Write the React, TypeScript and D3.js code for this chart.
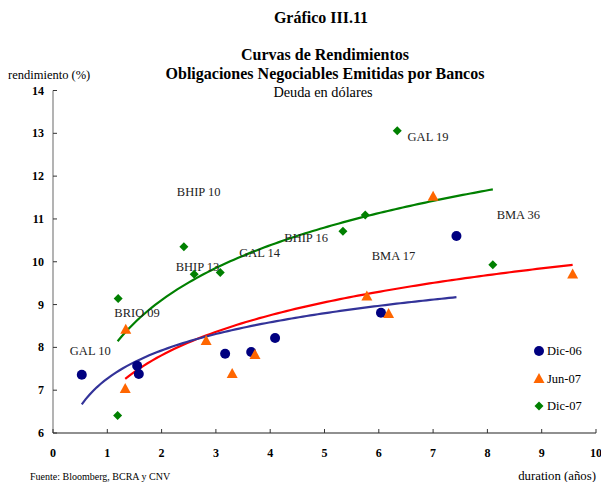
import React from "react";
import * as d3 from "d3";

const yTicks = [6, 7, 8, 9, 10, 11, 12, 13, 14];
const xTicks = [0, 1, 2, 3, 4, 5, 6, 7, 8, 9, 10];

const dic06X = [0.53, 1.55, 1.58, 3.17, 3.65, 4.09, 6.04, 7.43];
const dic06Y = [7.36, 7.57, 7.38, 7.85, 7.89, 8.22, 8.81, 10.6];

const jun07X = [1.33, 1.34, 2.82, 3.3, 3.72, 5.78, 6.18, 7.0, 9.57];
const jun07Y = [7.03, 8.41, 8.15, 7.38, 7.82, 9.19, 8.78, 11.52, 9.7];

const dic07X = [1.2, 1.19, 2.41, 2.6, 3.08, 5.34, 5.75, 6.34, 8.1];
const dic07Y = [9.14, 6.41, 10.35, 9.71, 9.75, 10.71, 11.09, 13.06, 9.93];

const bondNames = ["GAL 10", "BRIO 09", "BHIP 10", "BHIP 13", "GAL 14", "BHIP 16", "GAL 19", "BMA 17", "BMA 36"];
const bondX = [0.31, 1.13, 2.28, 2.26, 3.43, 4.26, 6.53, 5.87, 8.17];
const bondY = [7.83, 8.7, 11.53, 9.78, 10.11, 10.46, 12.83, 10.05, 10.99];

const legendNames = ["Dic-06", "Jun-07", "Dic-07"];

const W = 601, H = 482;
const x = d3.scaleLinear().domain([0, 10]).range([53, 596]);
const y = d3.scaleLinear().domain([6, 14]).range([433, 90.5]);

function logFit(xs: number[], ys: number[]) {
  const lx = xs.map(Math.log);
  const mx = d3.mean(lx) as number;
  const my = d3.mean(ys) as number;
  let sxy = 0, sxx = 0;
  lx.forEach((v, i) => { sxy += (v - mx) * (ys[i] - my); sxx += (v - mx) * (v - mx); });
  const b = sxy / sxx;
  const a = my - b * mx;
  const lo = d3.min(xs) as number, hi = d3.max(xs) as number;
  const pts: [number, number][] = d3.range(0, 101).map((k) => {
    const t = lo + ((hi - lo) * k) / 100;
    return [t, a + b * Math.log(t)];
  });
  return d3.line<[number, number]>().x((d) => x(d[0])).y((d) => y(d[1]))(pts) as string;
}

const serif = "'Liberation Serif', 'Times New Roman', serif";

const Circle = ({ cx, cy }: { cx: number; cy: number }) => (
  <circle cx={cx} cy={cy} r={5} fill="#000080" />
);
const Tri = ({ cx, cy }: { cx: number; cy: number }) => (
  <path d={`M${cx},${cy - 6}L${cx + 5.5},${cy + 4}L${cx - 5.5},${cy + 4}Z`} fill="#FF6600" />
);
const Diamond = ({ cx, cy }: { cx: number; cy: number }) => (
  <path d={`M${cx},${cy - 4.5}L${cx + 4.5},${cy}L${cx},${cy + 4.5}L${cx - 4.5},${cy}Z`} fill="#008000" />
);

export default function App() {
  return (
    <svg width={W} height={H} style={{ position: "absolute", left: 0, top: 0, background: "#fff" }} fontFamily={serif}>
      <rect width={W} height={H} fill="#fff" />
      <text x={321} y={23} textAnchor="middle" fontWeight="bold" fontSize={16}>Gráfico III.11</text>
      <text x={325} y={60} textAnchor="middle" fontWeight="bold" fontSize={16}>Curvas de Rendimientos</text>
      <text x={325} y={79} textAnchor="middle" fontWeight="bold" fontSize={16}>Obligaciones Negociables Emitidas por Bancos</text>
      <text x={323} y={97} textAnchor="middle" fontSize={14.3}>Deuda en dólares</text>
      <text x={8} y={79} fontSize={12.5}>rendimiento (%)</text>

      {/* axes */}
      <line x1={x(0)} x2={x(0)} y1={y(14)} y2={y(6)} stroke="#808080" strokeWidth={1.2} />
      <line x1={x(0)} x2={x(10)} y1={y(6)} y2={y(6)} stroke="#222" strokeWidth={1.2} />
      {yTicks.map((t) => (
        <g key={"y" + t}>
          <line x1={x(0)} x2={x(0) + 4} y1={y(t)} y2={y(t)} stroke="#333" />
          <text x={44} y={y(t) + 4} textAnchor="end" fontWeight="bold" fontSize={12}>{t}</text>
        </g>
      ))}
      {xTicks.map((t) => (
        <g key={"x" + t}>
          <line x1={x(t)} x2={x(t)} y1={y(6)} y2={y(6) - 4} stroke="#333" />
          <text x={x(t)} y={457} textAnchor="middle" fontWeight="bold" fontSize={12}>{t}</text>
        </g>
      ))}

      {/* trend lines */}
      <path d={logFit(dic07X, dic07Y)} fill="none" stroke="#008000" strokeWidth={2.2} />
      <path d={logFit(jun07X, jun07Y)} fill="none" stroke="#FF0000" strokeWidth={2.2} />
      <path d={logFit(dic06X, dic06Y)} fill="none" stroke="#333399" strokeWidth={2.2} />

      {/* labels */}
      {bondNames.map((n, i) => (
        <text key={n} x={x(bondX[i])} y={y(bondY[i])} fontSize={12.5} fill="#222">{n}</text>
      ))}

      {/* points */}
      {dic06X.map((v, i) => <Circle key={"a" + i} cx={x(v)} cy={y(dic06Y[i])} />)}
      {jun07X.map((v, i) => <Tri key={"b" + i} cx={x(v)} cy={y(jun07Y[i])} />)}
      {dic07X.map((v, i) => <Diamond key={"c" + i} cx={x(v)} cy={y(dic07Y[i])} />)}

      {/* legend */}
      <Circle cx={539} cy={351} />
      <text x={547} y={355} fontSize={12.5}>{legendNames[0]}</text>
      <Tri cx={539} cy={379} />
      <text x={547} y={383} fontSize={12.5}>{legendNames[1]}</text>
      <Diamond cx={539} cy={406} />
      <text x={547} y={410} fontSize={12.5}>{legendNames[2]}</text>

      <text x={30} y={480} fontSize={10}>Fuente: Bloomberg, BCRA y CNV</text>
      <text x={596} y={480} textAnchor="end" fontSize={12.8}>duration (años)</text>
    </svg>
  );
}
